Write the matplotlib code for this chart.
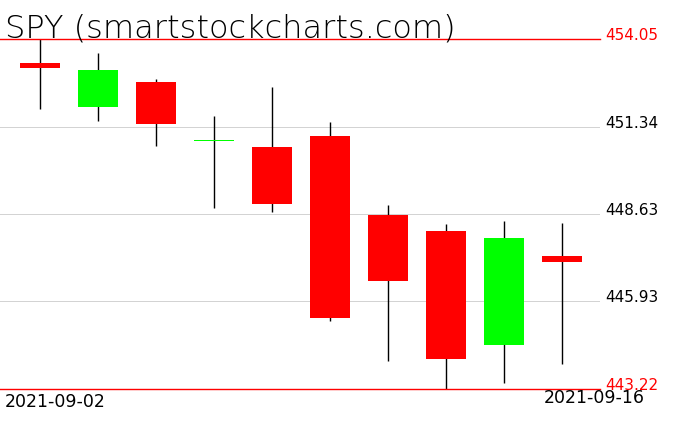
import numpy as np
import matplotlib
matplotlib.use("Agg")
import matplotlib.pyplot as plt
import matplotlib.transforms as mtransforms

# daily SPY candles, 2021-09-02 .. 2021-09-16
dates = ["2021-09-02", "2021-09-03", "2021-09-07", "2021-09-08", "2021-09-09",
         "2021-09-10", "2021-09-13", "2021-09-14", "2021-09-15", "2021-09-16"]
opens = [453.31, 451.95, 452.72, 450.89, 450.71, 451.05, 448.60, 448.11, 444.58, 447.34]
highs = [454.05, 453.62, 452.81, 451.67, 452.56, 451.48, 448.91, 448.33, 448.42, 448.36]
lows = [451.88, 451.51, 450.74, 448.82, 448.70, 445.32, 444.09, 443.22, 443.41, 443.99]
closes = [453.16, 453.09, 451.42, 450.94, 448.94, 445.42, 446.56, 444.15, 447.89, 447.16]

price_top = 454.05
price_bot = 443.22
grid_levels = [451.34, 448.63, 445.93]

W, H = 676, 431
fig = plt.figure(figsize=(W / 100, H / 100), dpi=100)
fig.patch.set_facecolor("white")

# axes box in pixels: x 0..600, y 40..390
ax = fig.add_axes([0, (H - 390) / H, 600 / W, 350 / H])
ax.set_xlim(-40 / 58, (600 - 40) / 58)
ax.set_ylim(price_bot, price_top)
ax.axis("off")

lw = 0.72
for g in grid_levels:
    ax.axhline(g, color="#d3d3d3", lw=lw, zorder=1)
for g in [price_top, price_bot]:
    ax.axhline(g, color="#ff0000", lw=lw * 1.4, zorder=4, clip_on=False)

x = np.arange(len(dates))
o = np.array(opens)
c = np.array(closes)
colors = np.where(c >= o, "#00ff00", "#ff0000")
ax.vlines(x, lows, highs, color="black", lw=lw * 1.4, zorder=2, clip_on=False)
ax.bar(x, np.abs(c - o), bottom=np.minimum(o, c), width=40 / 58,
       color=colors, zorder=3, clip_on=False)

# price labels on the right
trans = mtransforms.blended_transform_factory(ax.transAxes, ax.transData)
for lvl, col in [(price_top, "#ff0000"), (grid_levels[0], "black"),
                 (grid_levels[1], "black"), (grid_levels[2], "black"),
                 (price_bot, "#ff0000")]:
    ax.text(605 / 600, lvl, f"{lvl:.2f}", transform=trans, color=col,
            fontsize=11, va="baseline", ha="left", clip_on=False)

fig.text(5 / W, (H - 37) / H, "SPY (smartstockcharts.com)", fontsize=23,
         fontweight="light", va="baseline", ha="left", color="black")
fig.text(5 / W, (H - 393) / H, dates[0], fontsize=12.5, va="top", ha="left")
fig.text(645 / W, (H - 389) / H, dates[-1], fontsize=12.5, va="top", ha="right")

fig.savefig("out.png", dpi=100)
